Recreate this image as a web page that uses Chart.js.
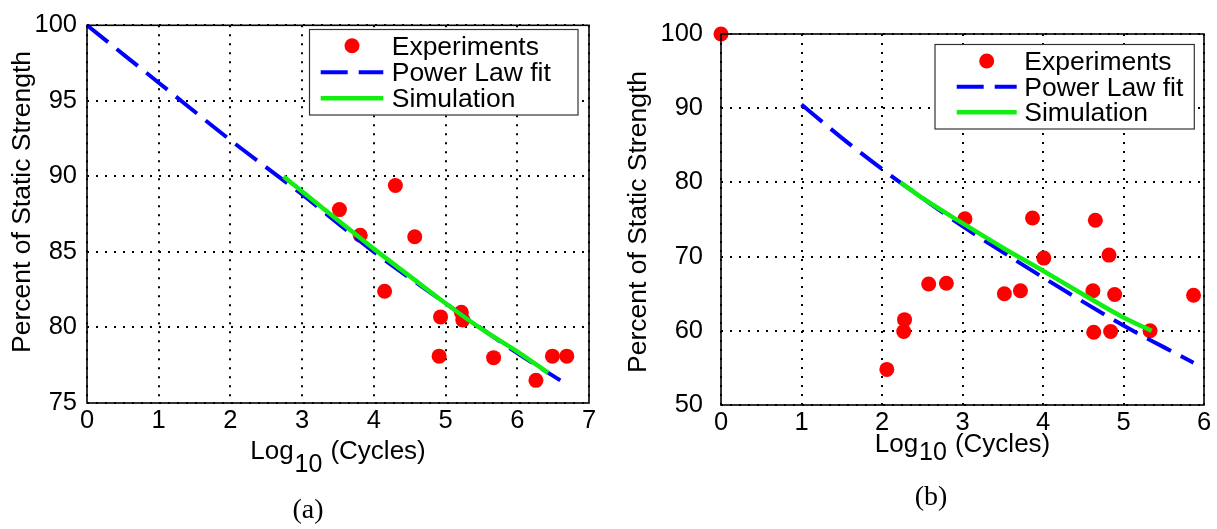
<!DOCTYPE html>
<html><head><meta charset="utf-8">
<script src="https://cdn.jsdelivr.net/npm/chart.js@4.4.0/dist/chart.umd.min.js"></script>
<style>
html,body{margin:0;padding:0;background:#fff;width:1217px;height:529px;overflow:hidden;}
canvas{position:absolute;top:0;}
#ca{left:0;} #cb{left:610px;}
</style></head><body>
<canvas id="ca" width="610" height="529"></canvas>
<canvas id="cb" width="607" height="529"></canvas>
<script>
// ---------- Panel (a) ----------
const expAX = [3.52, 3.81, 4.30, 4.57, 4.15, 4.93, 4.91, 5.22, 5.24, 5.67, 6.26, 6.49, 6.69];
const expAY = [87.8, 86.1, 89.4, 86.0, 82.4, 80.7, 78.1, 81.0, 80.5, 78.0, 76.5, 78.1, 78.1];
const fitAX = [0, 1, 2, 3, 4, 5, 6, 6.6];
const fitAY = [100, 96.2, 92.4, 88.8, 85.0, 81.6, 78.3, 76.5];
const simAX = [2.74, 3, 3.5, 4, 4.5, 5, 5.5, 6, 6.43];
const simAY = [90.0, 89.0, 87.1, 85.2, 83.4, 81.6, 79.9, 78.4, 77.0];
const xTicksA = [0, 1, 2, 3, 4, 5, 6, 7];
const yTicksA = [75, 80, 85, 90, 95, 100];

// ---------- Panel (b) ----------
const expBX = [0, 2.06, 2.28, 2.27, 2.58, 2.80, 3.03, 3.52, 3.72, 3.87, 4.01, 4.65, 4.62, 4.63, 4.82, 4.89, 4.84, 5.33, 5.87];
const expBY = [100, 54.8, 61.5, 59.9, 66.3, 66.4, 75.1, 65.0, 65.4, 75.2, 69.8, 74.9, 65.4, 59.8, 70.2, 64.9, 59.9, 60.0, 64.8];
const fitBX = [1, 1.5, 2, 2.5, 3, 3.5, 4, 4.5, 5, 5.5, 5.87];
const fitBY = [90.5, 86.0, 81.8, 77.9, 74.1, 70.6, 67.2, 63.9, 60.7, 57.8, 55.7];
const simBX = [2.23, 2.5, 3, 3.5, 4, 4.5, 5, 5.35];
const simBY = [80.0, 77.9, 74.5, 71.2, 68.1, 64.9, 61.8, 60.0];
const xTicksB = [0, 1, 2, 3, 4, 5, 6];
const yTicksB = [50, 60, 70, 80, 90, 100];

const labels = ['Experiments', 'Power Law fit', 'Simulation'];
const yTitle = 'Percent of Static Strength';
const xTitleParts = ['Log', '10', '(Cycles)'];

const FONT = '"Liberation Sans", Arial, Helvetica, sans-serif';
const RED = '#ff0000', BLUE = '#0000ff', GREEN = '#11ee11';

function pts(xs, ys) { return xs.map((x, i) => ({x: x, y: ys[i]})); }

const deco = {
  id: 'deco',
  afterDraw(chart, args, o) {
    const ctx = chart.ctx, ca = chart.chartArea;
    ctx.save();
    ctx.setLineDash([]);
    ctx.strokeStyle = '#000'; ctx.lineWidth = 1.6;
    ctx.strokeRect(ca.left, ca.top, ca.right - ca.left, ca.bottom - ca.top);
    // legend
    const L = o.legend;
    ctx.fillStyle = '#fff';
    ctx.fillRect(L.x, L.y, L.w, L.h);
    ctx.strokeStyle = '#333'; ctx.lineWidth = 1.2;
    ctx.strokeRect(L.x, L.y, L.w, L.h);
    chart.data.datasets.forEach((ds, i) => {
      const ry = L.rows[i];
      if (ds.showLine === false) {
        ctx.fillStyle = ds.backgroundColor;
        ctx.beginPath(); ctx.arc(L.mx, ry, ds.pointRadius, 0, Math.PI * 2); ctx.fill();
      } else {
        ctx.strokeStyle = ds.borderColor; ctx.lineWidth = ds.borderWidth;
        ctx.setLineDash(ds.borderDash || []);
        ctx.beginPath(); ctx.moveTo(L.l1, ry); ctx.lineTo(L.l2, ry); ctx.stroke();
        ctx.setLineDash([]);
      }
      ctx.fillStyle = '#000'; ctx.font = '26.5px ' + FONT;
      ctx.textAlign = 'left'; ctx.textBaseline = 'alphabetic';
      ctx.fillText(ds.label, L.tx, ry + 9);
    });
    // y title
    ctx.save();
    ctx.translate(o.yt.x, o.yt.y); ctx.rotate(-Math.PI / 2);
    ctx.font = '26.5px ' + FONT; ctx.textAlign = 'center'; ctx.textBaseline = 'middle';
    ctx.fillStyle = '#000';
    ctx.fillText(yTitle, 0, 0);
    ctx.restore();
    // x title with subscript
    ctx.fillStyle = '#000'; ctx.textAlign = 'left'; ctx.textBaseline = 'alphabetic';
    ctx.font = '26px ' + FONT;
    const w0 = ctx.measureText(xTitleParts[0]).width;
    const w2 = ctx.measureText(xTitleParts[2]).width;
    ctx.font = '25px ' + FONT;
    const w1 = ctx.measureText(xTitleParts[1]).width;
    const gap = 8;
    const total = w0 + 1 + w1 + gap + w2;
    let x = (ca.left + ca.right) / 2 - total / 2;
    ctx.font = '26px ' + FONT;
    ctx.fillText(xTitleParts[0], x, o.xt.base); x += w0 + 1;
    ctx.font = '25px ' + FONT;
    ctx.fillText(xTitleParts[1], x, o.xt.sub); x += w1 + gap;
    ctx.font = '26px ' + FONT;
    ctx.fillText(xTitleParts[2], x, o.xt.base);
    // caption
    ctx.font = '28px "Liberation Serif", "Times New Roman", serif';
    ctx.textAlign = 'center'; ctx.textBaseline = 'middle';
    ctx.fillText(o.cap.text, o.cap.x, o.cap.y);
    ctx.restore();
  }
};

function makeChart(id, d) {
  return new Chart(document.getElementById(id), {
    type: 'scatter',
    data: {
      datasets: [
        {label: labels[0], data: pts(d.ex, d.ey), showLine: false, pointRadius: 7.5,
         pointHoverRadius: 7.5, backgroundColor: RED, borderWidth: 0, order: 3, clip: false},
        {label: labels[1], data: pts(d.fx, d.fy), showLine: true, pointRadius: 0, borderColor: BLUE,
         borderWidth: 4, borderDash: [27, 11], cubicInterpolationMode: 'monotone', borderCapStyle: 'butt', order: 2, clip: false},
        {label: labels[2], data: pts(d.sx, d.sy), showLine: true, pointRadius: 0, borderColor: GREEN,
         borderWidth: 4.5, cubicInterpolationMode: 'monotone', order: 1, clip: false}
      ]
    },
    options: {
      responsive: false, animation: false, events: [],
      layout: {padding: d.pad},
      plugins: {legend: {display: false}, tooltip: {enabled: false}, deco: d.deco},
      scales: {
        x: {
          type: 'linear', min: d.xt[0], max: d.xt[d.xt.length - 1],
          afterBuildTicks: s => { s.ticks = d.xt.map(v => ({value: v})); },
          afterFit: s => { s.height = d.xh; },
          grid: {color: '#000', lineWidth: 2, drawTicks: false},
          border: {display: false, dash: [2, 7]},
          ticks: {color: '#000', font: {family: FONT, size: 25.5}, padding: 3, maxRotation: 0}
        },
        y: {
          type: 'linear', min: d.yt[0], max: d.yt[d.yt.length - 1],
          afterBuildTicks: s => { s.ticks = d.yt.map(v => ({value: v})); },
          afterFit: s => { s.width = d.yw; },
          grid: {color: '#000', lineWidth: 2, drawTicks: false},
          border: {display: false, dash: [2, 7]},
          ticks: {color: '#000', font: {family: FONT, size: 25.5}, padding: d.ypad}
        }
      }
    },
    plugins: [deco]
  });
}

makeChart('ca', {
  ex: expAX, ey: expAY, fx: fitAX, fy: fitAY, sx: simAX, sy: simAY, xt: xTicksA, yt: yTicksA,
  pad: {top: 17, right: 21, left: 0, bottom: 0}, xh: 126, yw: 87, ypad: 10,
  deco: {
    legend: {x: 309.5, y: 29.5, w: 268.5, h: 85.5, rows: [45.7, 72.3, 98.3], mx: 352, l1: 320.7, l2: 383.3, tx: 391.7},
    yt: {x: 23, y: 202}, xt: {base: 459, sub: 471.5}, cap: {text: '(a)', x: 308, y: 511}
  }
});
makeChart('cb', {
  ex: expBX, ey: expBY, fx: fitBX, fy: fitBY, sx: simBX, sy: simBY, xt: xTicksB, yt: yTicksB,
  pad: {top: 34, right: 13, left: 0, bottom: 0}, xh: 124, yw: 111, ypad: 18,
  deco: {
    legend: {x: 325, y: 44.5, w: 259.3, h: 84.5, rows: [61, 86.7, 112.3], mx: 376.7, l1: 346.7, l2: 406.7, tx: 414.3},
    yt: {x: 29, y: 222}, xt: {base: 452, sub: 460}, cap: {text: '(b)', x: 321, y: 498}
  }
});
</script>
</body></html>
